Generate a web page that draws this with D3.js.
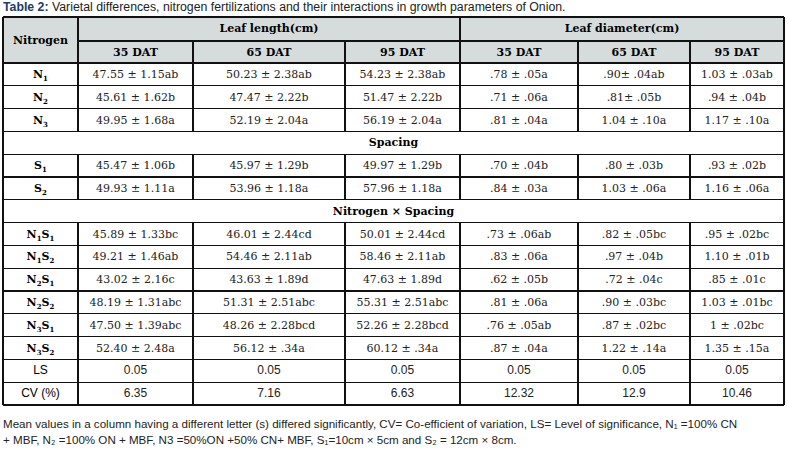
<!DOCTYPE html>
<html lang="en">
<head>
<meta charset="UTF-8">
<title>Table 2</title>
<script src="https://cdn.jsdelivr.net/npm/d3@7"></script>
<style>
  body { margin: 0; background: #fff; }
  text { font-family: "DejaVu Serif", serif; }
</style>
</head>
<body>
<svg></svg>
<script>
    // table data
    const groups = ['Leaf length(cm)', 'Leaf diameter(cm)'];
    const days = ['35 DAT', '65 DAT', '95 DAT'];
    const rowLabels = [['N', '1'], ['N', '2'], ['N', '3'], ['S', '1'], ['S', '2'],
        ['N', '1', 'S', '1'], ['N', '1', 'S', '2'], ['N', '2', 'S', '1'], ['N', '2', 'S', '2'], ['N', '3', 'S', '1'], ['N', '3', 'S', '2'],
        ['LS'], ['CV (%)']];
    const values = [
        ['47.55 ± 1.15ab', '50.23 ± 2.38ab', '54.23 ± 2.38ab', '.78 ± .05a', '.90± .04ab', '1.03 ± .03ab'],
        ['45.61 ± 1.62b', '47.47 ± 2.22b', '51.47 ± 2.22b', '.71 ± .06a', '.81± .05b', '.94 ± .04b'],
        ['49.95 ± 1.68a', '52.19 ± 2.04a', '56.19 ± 2.04a', '.81 ± .04a', '1.04 ± .10a', '1.17 ± .10a'],
        ['45.47 ± 1.06b', '45.97 ± 1.29b', '49.97 ± 1.29b', '.70 ± .04b', '.80 ± .03b', '.93 ± .02b'],
        ['49.93 ± 1.11a', '53.96 ± 1.18a', '57.96 ± 1.18a', '.84 ± .03a', '1.03 ± .06a', '1.16 ± .06a'],
        ['45.89 ± 1.33bc', '46.01 ± 2.44cd', '50.01 ± 2.44cd', '.73 ± .06ab', '.82 ± .05bc', '.95 ± .02bc'],
        ['49.21 ± 1.46ab', '54.46 ± 2.11ab', '58.46 ± 2.11ab', '.83 ± .06a', '.97 ± .04b', '1.10 ± .01b'],
        ['43.02 ± 2.16c', '43.63 ± 1.89d', '47.63 ± 1.89d', '.62 ± .05b', '.72 ± .04c', '.85 ± .01c'],
        ['48.19 ± 1.31abc', '51.31 ± 2.51abc', '55.31 ± 2.51abc', '.81 ± .06a', '.90 ± .03bc', '1.03 ± .01bc'],
        ['47.50 ± 1.39abc', '48.26 ± 2.28bcd', '52.26 ± 2.28bcd', '.76 ± .05ab', '.87 ± .02bc', '1 ± .02bc'],
        ['52.40 ± 2.48a', '56.12 ± .34a', '60.12 ± .34a', '.87 ± .04a', '1.22 ± .14a', '1.35 ± .15a'],
        ['0.05', '0.05', '0.05', '0.05', '0.05', '0.05'],
        ['6.35', '7.16', '6.63', '12.32', '12.9', '10.46']
    ];
    // order of lines in the body: data rows indexes or section titles
    const bodyOrder = [0, 1, 2, 'Spacing', 3, 4, 'Nitrogen × Spacing', 5, 6, 7, 8, 9, 10, 11, 12];

    const width = 788, height = 453;
    const svg = d3.select('svg').attr('width', width).attr('height', height);

    const colX = [3, 78, 193, 345, 460, 578, 690, 784];
    const topY = 17, headH = 46, rowH = 22.8;
    const yBody = topY + headH;
    const yEnd = yBody + bodyOrder.length * rowH;

    // title
    const title = svg.append('text').attr('x', 3).attr('y', 11)
        .style('font-family', 'Liberation Sans, Arial, sans-serif').style('font-size', '12.3px').attr('fill', '#222');
    title.append('tspan').attr('font-weight', 'bold').attr('fill', '#1d3b6b').text('Table 2:');
    title.append('tspan').text(' Varietal differences, nitrogen fertilizations and their interactions in growth parameters of Onion.');

    // header background
    svg.append('rect').attr('x', colX[0]).attr('y', topY).attr('width', colX[7] - colX[0]).attr('height', headH)
        .attr('fill', '#d6dcdc');

    // white section rows
    bodyOrder.forEach((r, i) => {
        if (typeof r === 'string') return;
    });

    const g = svg.append('g').attr('stroke', '#111').attr('stroke-width', 1.2).attr('shape-rendering', 'crispEdges');
    const hline = (y, x1, x2) => g.append('line').attr('x1', x1).attr('x2', x2).attr('y1', y).attr('y2', y);
    const vline = (x, y1, y2) => g.append('line').attr('x1', x).attr('x2', x).attr('y1', y1).attr('y2', y2);

    hline(topY, colX[0], colX[7]);
    hline(topY + headH / 2 + 1, colX[1], colX[7]);
    hline(yEnd, colX[0], colX[7]);
    vline(colX[0], topY, yEnd);
    vline(colX[7], topY, yEnd);
    bodyOrder.forEach((r, i) => hline(yBody + i * rowH, colX[0], colX[7]));
    // vertical lines, broken at section rows
    bodyOrder.forEach((r, i) => {
        if (typeof r === 'string') return;
        const y = yBody + i * rowH;
        [1, 2, 3, 4, 5, 6].forEach(c => vline(colX[c], y, y + rowH));
    });
    vline(colX[1], topY, yBody);
    vline(colX[4], topY, yBody);
    [2, 3, 5, 6].forEach(c => vline(colX[c], topY + headH / 2 + 1, yBody));

    // headers
    svg.append('text').attr('x', (colX[0] + colX[1]) / 2).attr('y', topY + headH / 2 + 4)
        .attr('text-anchor', 'middle').attr('font-weight', 'bold').style('font-size', '11px').text('Nitrogen');
    groups.forEach((gname, gi) => {
        svg.append('text').attr('x', (colX[1 + gi * 3] + colX[4 + gi * 3]) / 2).attr('y', topY + 15)
            .attr('text-anchor', 'middle').attr('font-weight', 'bold').style('font-size', '11px').text(gname);
        days.forEach((d, di) => {
            const c = 1 + gi * 3 + di;
            svg.append('text').attr('x', (colX[c] + colX[c + 1]) / 2).attr('y', topY + headH / 2 + 16)
                .attr('text-anchor', 'middle').attr('font-weight', 'bold').style('font-size', '11px').text(d);
        });
    });

    // body
    const narrowFont = "'Liberation Sans Narrow', 'Liberation Sans', sans-serif";
    bodyOrder.forEach((r, i) => {
        const y = yBody + i * rowH;
        if (typeof r === 'string') {
            svg.append('text').attr('x', (colX[0] + colX[7]) / 2).attr('y', y + 15).attr('text-anchor', 'middle')
                .attr('font-weight', 'bold').style('font-size', '11px').text(r);
            return;
        }
        const narrow = r >= 11;
        const lab = svg.append('text').attr('x', (colX[0] + colX[1]) / 2).attr('y', y + 15)
            .attr('text-anchor', 'middle').attr('font-weight', narrow ? 'normal' : 'bold').style('font-size', '11px');
        if (narrow) lab.style('font-family', narrowFont).style('font-size', '12px');
        rowLabels[r].forEach((p, pi) => {
            const t = lab.append('tspan').text(p);
            if (pi % 2 === 1) t.attr('dy', 3).style('font-size', '7px');
            else if (pi > 0) t.attr('dy', -3);
        });
        values[r].forEach((v, vi) => {
            const t = svg.append('text').attr('x', (colX[vi + 1] + colX[vi + 2]) / 2).attr('y', y + 15)
                .attr('text-anchor', 'middle').style('font-size', '11px').attr('fill', '#222').text(v);
            if (narrow) t.style('font-family', narrowFont).style('font-size', '12px');
        });
    });

    // footnote
    const note = ['Mean values in a column having a different letter (s) differed significantly, CV= Co-efficient of variation, LS= Level of significance, N₁ =100% CN',
        '+ MBF, N₂ =100% ON + MBF, N3 =50%ON +50% CN+ MBF, S₁=10cm × 5cm and S₂ = 12cm × 8cm.'];
    note.forEach((t, i) => svg.append('text').attr('x', 3).attr('y', yEnd + 23 + i * 16)
        .style('font-family', 'Liberation Sans, Arial, sans-serif').style('font-size', '11.6px').attr('fill', '#222').text(t));
</script>
</body>
</html>
